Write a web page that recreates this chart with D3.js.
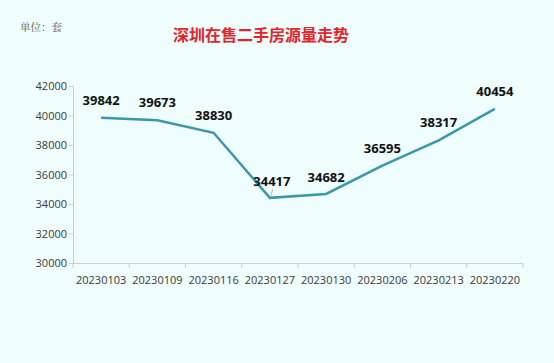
<!doctype html>
<html>
<head>
<meta charset="utf-8">
<script src="https://cdn.jsdelivr.net/npm/d3@7"></script>
<style>
  body { margin: 0; background: #effdfd; }
  svg { display: block; }
</style>
</head>
<body>
<script>

// Data
var dates = ["20230103", "20230109", "20230116", "20230127", "20230130", "20230206", "20230213", "20230220"];
var counts = [39842, 39673, 38830, 34417, 34682, 36595, 38317, 40454];
var yTicks = [30000, 32000, 34000, 36000, 38000, 40000, 42000];

var dataset = dates.map(function(d, i) { return {date: d, value: counts[i]}; });

var width = 554, height = 363;
var plot = {left: 73, right: 523, top: 86, bottom: 263};

var svg = d3.select("body").append("svg")
  .attr("width", width)
  .attr("height", height);

svg.append("rect")
  .attr("width", width)
  .attr("height", height)
  .attr("fill", "#effdfd");

// Scales
var xScale = d3.scaleBand()
  .domain(dates)
  .range([plot.left, plot.right]);

var yScale = d3.scaleLinear()
  .domain([30000, 42000])
  .range([plot.bottom, plot.top]);

// Axes
var yAxis = d3.axisLeft(yScale).tickValues(yTicks).tickSize(4).tickFormat(d3.format("d"));
var xAxis = d3.axisBottom(xScale).tickSize(5).tickSizeOuter(0);

var gy = svg.append("g")
  .attr("transform", "translate(" + plot.left + ",0)")
  .call(yAxis);

var gx = svg.append("g")
  .attr("transform", "translate(0," + plot.bottom + ")")
  .call(xAxis);

// x ticks sit at band boundaries, not centres
gx.selectAll(".tick line").remove();
gx.selectAll(".boundary")
  .data(d3.range(dates.length + 1))
  .enter().append("line")
  .attr("x1", function(i) { return plot.left + i * xScale.step(); })
  .attr("x2", function(i) { return plot.left + i * xScale.step(); })
  .attr("y1", 0)
  .attr("y2", 5)
  .attr("stroke", "#c9cfcf");

[gx, gy].forEach(function(g) {
  g.select(".domain").attr("stroke", "#c9cfcf");
  g.selectAll(".tick line").attr("stroke", "#c9cfcf");
  g.selectAll(".tick text")
    .attr("fill", "#3a3a3a")
    .style("font-family", "'Open Sans', 'Noto Sans', sans-serif")
    .style("font-size", "11px");
});
gx.selectAll(".tick text").attr("dy", "1.2em");
gy.selectAll(".tick text").attr("x", -6);

// Line
var line = d3.line()
  .x(function(d) { return xScale(d.date) + xScale.bandwidth() / 2; })
  .y(function(d) { return yScale(d.value); });

svg.append("path")
  .datum(dataset)
  .attr("fill", "none")
  .attr("stroke", "#3a98a9")
  .attr("stroke-width", 2.5)
  .attr("d", line);

// leader for the dip label
var dip = dataset[3];
svg.append("line")
  .attr("x1", xScale(dip.date) + xScale.bandwidth() / 2 + 1)
  .attr("x2", xScale(dip.date) + xScale.bandwidth() / 2 + 3)
  .attr("y1", yScale(dip.value) - 2)
  .attr("y2", yScale(dip.value) - 9)
  .attr("stroke", "#bbbbbb")
  .attr("stroke-width", 1);

// Value labels
svg.selectAll(".label")
  .data(dataset)
  .enter().append("text")
  .attr("class", "label")
  .attr("x", function(d, i) { return xScale(d.date) + xScale.bandwidth() / 2 + (i == 3 ? 2 : 0); })
  .attr("y", function(d, i) { return yScale(d.value) - (i == 3 || i == 4 ? 12 : 13); })
  .attr("text-anchor", "middle")
  .attr("fill", "#111")
  .style("font-family", "'Open Sans', 'Noto Sans', sans-serif")
  .style("font-weight", "bold")
  .style("font-size", "13px")
  .text(function(d) { return d.value; });

// Title and unit
svg.append("text")
  .attr("x", 261)
  .attr("y", 41)
  .attr("text-anchor", "middle")
  .attr("fill", "#e3242b")
  .style("font-family", "'Noto Sans CJK SC', sans-serif")
  .style("font-weight", "bold")
  .style("font-size", "16px")
  .text("深圳在售二手房源量走势");

svg.append("text")
  .attr("x", 20)
  .attr("y", 31)
  .attr("fill", "#555")
  .style("font-family", "'Noto Serif CJK SC', 'Noto Sans CJK SC', serif")
  .style("font-size", "10.5px")
  .text("单位：套");

</script>
</body>
</html>
